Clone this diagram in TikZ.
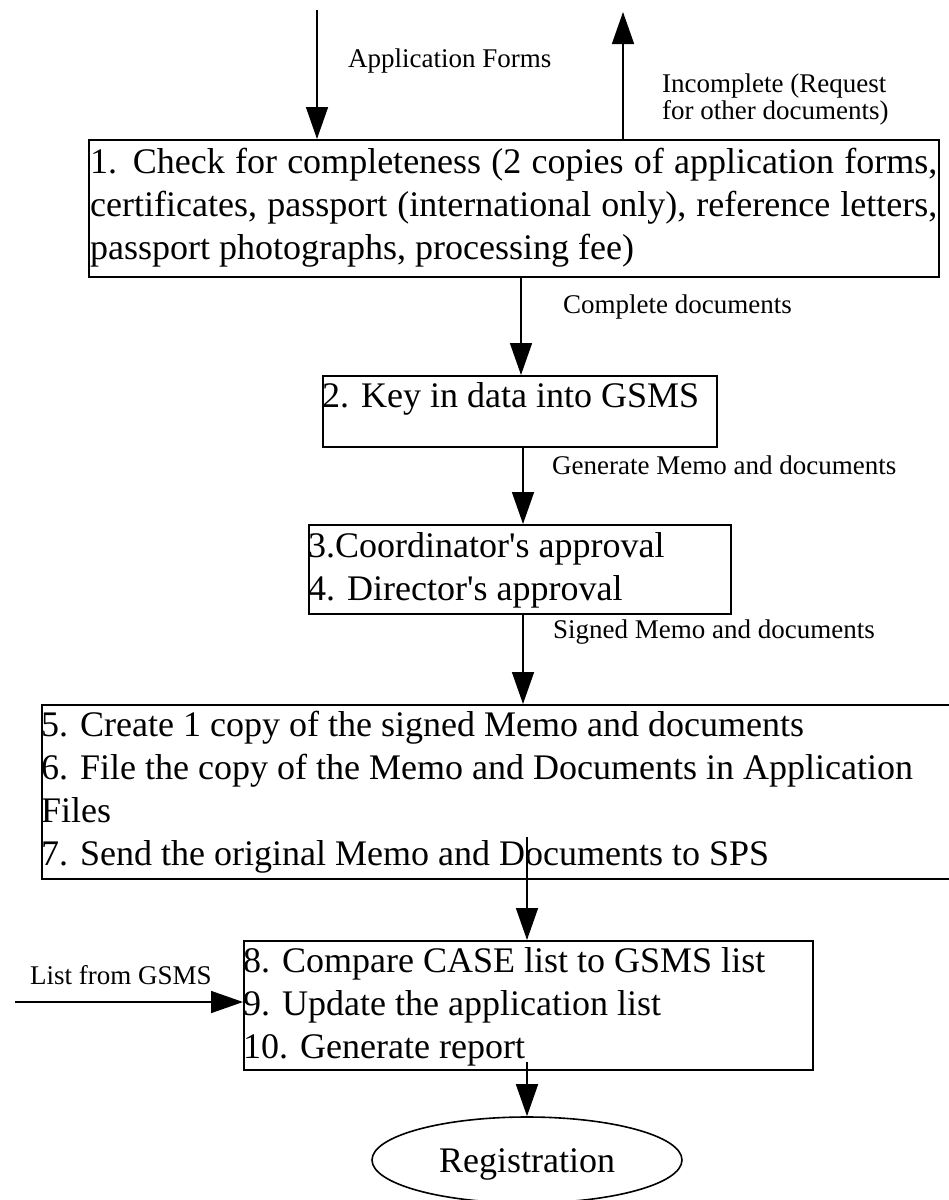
\documentclass[tikz,border=0pt]{standalone}
\usepackage{fontspec}
\setmainfont{Liberation Serif}
\usetikzlibrary{arrows.meta,shapes.geometric}
\begin{document}
\begin{tikzpicture}[x=1pt,y=-1pt,
  boxst/.style={draw, line width=1.6pt, inner sep=0pt, anchor=north west},
  txt/.style={anchor=base west, inner sep=0pt, font=\fontsize{36}{43}\selectfont},
  lbl/.style={anchor=base west, inner sep=0pt, font=\fontsize{27}{25}\selectfont},
  arr/.style={line width=1.6pt, -{Triangle[length=32pt,width=22pt]}}]
\useasboundingbox (0,0) rectangle (949,1200);
% boxes
\node[boxst, minimum width=850pt, minimum height=137pt] (b1) at (88,139) {};
\node[boxst, minimum width=394pt, minimum height=71pt] (b2) at (322,375) {};
\node[boxst, minimum width=422pt, minimum height=89pt] (b3) at (308,524) {};
\node[boxst, minimum width=930pt, minimum height=174pt] (b4) at (41,704) {};
\node[boxst, minimum width=569pt, minimum height=129pt] (b5) at (243,940) {};
\node[draw, ellipse, line width=1.6pt, minimum width=310pt, minimum height=86pt, inner sep=0pt] (e) at (527,1160) {};
% texts
\node[txt] (t1a) at (90,173) {\makebox[847pt][s]{1. Check for completeness (2 copies of application forms,}};
\node[txt] (t1b) at (90,216) {\makebox[847pt][s]{certificates, passport (international only), reference letters,}};
\node[txt] (t1c) at (90,259) {passport photographs, processing fee)};
\node[txt] (t2) at (322,407) {2. Key in data into GSMS};
\node[txt] (t3a) at (308,557) {3.Coordinator\textquotesingle s approval};
\node[txt] (t3b) at (308,600) {4. Director\textquotesingle s approval};
\node[txt] (t4a) at (41,736) {5. Create 1 copy of the signed Memo and documents};
\node[txt] (t4b) at (41,779) {6. File the copy of the Memo and Documents in Application};
\node[txt] (t4c) at (41,822) {Files};
\node[txt] (t4d) at (41,865) {7. Send the original Memo and Documents to SPS};
\node[txt] (t5a) at (243,972) {8. Compare CASE list to GSMS list};
\node[txt] (t5b) at (243,1015) {9. Update the application list};
\node[txt] (t5c) at (243,1058) {10. Generate report};
\node[txt, anchor=base] (te) at (527,1172) {Registration};
% labels
\node[lbl] (l1) at (348,67) {Application Forms};
\node[lbl] (l2a) at (662,92) {Incomplete (Request};
\node[lbl] (l2b) at (662,119) {for other documents)};
\node[lbl] (l3) at (563,313) {Complete documents};
\node[lbl] (l4) at (552,474) {Generate Memo and documents};
\node[lbl] (l5) at (553,638) {Signed Memo and documents};
\node[lbl] (l6) at (30,984) {List from GSMS};
% connector helpers
\coordinate (top1) at (317,10);
\coordinate (top2) at (623,12);
\coordinate (c2) at (521,0);
\coordinate (c3) at (523,0);
\coordinate (s5) at (527,837);
\coordinate (s6) at (527,1062);
\coordinate (l0) at (15,1002);
% connectors
\draw[arr] (top1) -- (b1.north -| top1);
\draw[arr] (b1.north -| top2) -- (top2);
\draw[arr] (b1.south -| c2) -- (b2.north -| c2);
\draw[arr] (b2.south -| c3) -- (b3.north -| c3);
\draw[arr] (b3.south -| c3) -- (b4.north -| c3);
\draw[arr] (s5) -- (b5.north -| s5);
\draw[arr] (s6) -- (e.north);
\draw[arr] (l0) -- (b5.west |- l0);
\end{tikzpicture}
\end{document}
